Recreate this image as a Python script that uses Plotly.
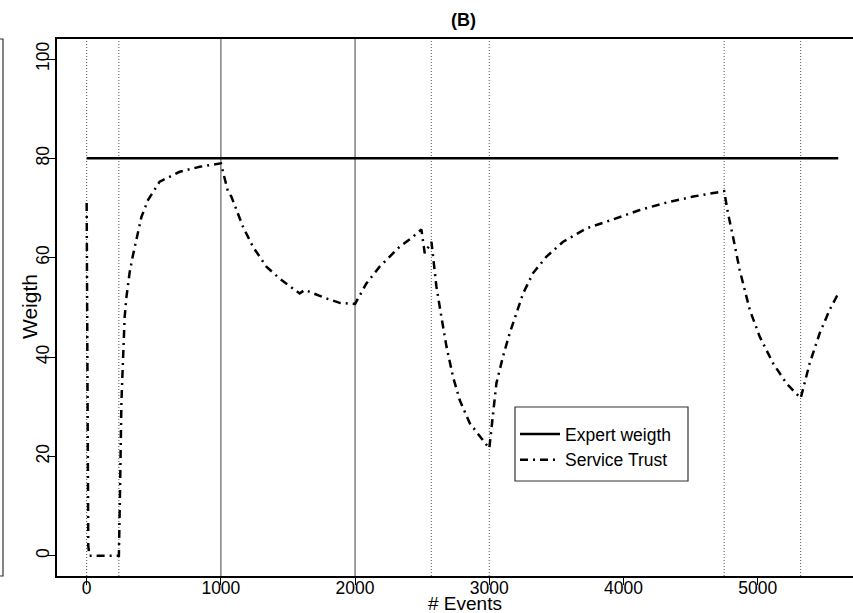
import plotly.graph_objects as go

# ---- data ----
events = [0, 12, 20, 240, 248, 259, 283, 296, 320, 345, 408, 457, 544, 693, 842, 978, 1000,
          1053, 1078, 1165, 1239, 1339, 1438, 1537, 1587, 1624, 1686, 1786, 1885, 2000,
          2084, 2183, 2332, 2431, 2494, 2519, 2569, 2606, 2643, 2681, 2730, 2780, 2854, 2929, 3000,
          3053, 3102, 3152, 3189, 3252, 3326, 3426, 3550, 3724, 3922, 4121, 4320, 4519, 4750,
          4779, 4816, 4866, 4941, 5015, 5115, 5214, 5320, 5387, 5462, 5536, 5600]
trust = [71, 2, 0, 0, 12, 31, 48, 52, 57, 60.5, 68.2, 71.6, 75.3, 77.3, 78.3, 78.8, 79,
         73.3, 72.3, 66.2, 62.2, 58.2, 55.8, 53.8, 52.8, 53.5, 52.8, 51.8, 50.9, 50.7,
         54.8, 58.2, 62.2, 64.2, 65.7, 60.9, 63.2, 54.2, 48.1, 42.1, 36.0, 31.3, 26.7, 24.0, 21.6,
         34.7, 40.1, 44.8, 47.8, 52.8, 56.9, 60.2, 63.2, 65.9, 67.7, 69.6, 71.1, 72.3, 73.4,
         68.9, 64.2, 57.5, 49.5, 44.1, 38.7, 34.7, 31.7, 38.7, 44.8, 49.5, 52.8]
expert_events = [0, 5600]
expert_weight = [80, 80]
solid_vlines = [1000, 2000]
dotted_vlines = [0, 240, 2568, 3000, 4750, 5320]
x_ticks = [0, 1000, 2000, 3000, 4000, 5000]
y_ticks = [0, 20, 40, 60, 80, 100]

FONT = "Liberation Sans, Arial, Helvetica, sans-serif"

W, H = 853, 613
L, R, T, B = 57, 0, 39, 37
pw, ph = W - L - R, H - T - B

def px2paper_x(px):
    return (px - L) / pw

def px2paper_y(py):
    return (H - B - py) / ph

fig = go.Figure()
fig.add_trace(go.Scatter(x=expert_events, y=expert_weight, mode="lines", name="Expert weigth",
                         line=dict(color="black", width=2.5)))
fig.add_trace(go.Scatter(x=events, y=trust, mode="lines", name="Service Trust",
                         line=dict(color="black", width=2.5, dash="8px,5px,2px,5px")))

fig.update_layout(
    width=W, height=H,
    margin=dict(l=L, r=R, t=T, b=B, pad=0),
    plot_bgcolor="white", paper_bgcolor="white",
    font=dict(family=FONT, size=17.5, color="black"),
    showlegend=True,
    legend=dict(x=px2paper_x(515), y=px2paper_y(416), xanchor="left", yanchor="top",
                bgcolor="rgba(0,0,0,0)", borderwidth=0, font=dict(size=17.5),
                itemwidth=40, tracegroupgap=0),
    xaxis=dict(range=[-221, 5710], tickvals=x_ticks, ticks="outside", ticklen=7,
               tickwidth=1, tickcolor="black", showline=True, linecolor="black", linewidth=1.5,
               mirror=True, showgrid=False, zeroline=False, ticklabelstandoff=-12),
    yaxis=dict(range=[-4.09, 104.03], tickvals=y_ticks, ticks="outside", ticklen=8,
               tickwidth=1, tickcolor="black", showline=True, linecolor="black", linewidth=1.5,
               mirror=False, showgrid=False, zeroline=False, tickangle=-90,
               ticklabelstandoff=-9),
    annotations=[
        dict(text="<b>(B)</b>", x=px2paper_x(463), y=px2paper_y(20), xref="paper", yref="paper",
             showarrow=False, font=dict(size=18), xanchor="center", yanchor="middle"),
        dict(text="# Events", x=px2paper_x(465), y=px2paper_y(603), xref="paper", yref="paper",
             showarrow=False, font=dict(size=19), xanchor="center", yanchor="middle"),
        dict(text="Weigth", x=px2paper_x(29), y=px2paper_y(307), xref="paper", yref="paper",
             showarrow=False, font=dict(size=21), textangle=-90, xanchor="center", yanchor="middle"),
    ],
)

for v in solid_vlines:
    fig.add_vline(x=v, line=dict(color="#808080", width=1.5), layer="below")
for v in dotted_vlines:
    fig.add_vline(x=v, line=dict(color="#555555", width=1, dash="1px,2px"), layer="below")

# legend box
fig.add_shape(type="rect", xref="paper", yref="paper",
              x0=px2paper_x(515), x1=px2paper_x(688), y0=px2paper_y(481), y1=px2paper_y(407),
              line=dict(color="#333333", width=1.2), fillcolor="rgba(0,0,0,0)")
# edge of the neighbouring panel (A)
fig.add_shape(type="path", xref="paper", yref="paper",
              path=f"M {px2paper_x(-2)} {px2paper_y(39)} L {px2paper_x(3)} {px2paper_y(39)} "
                   f"L {px2paper_x(3)} {px2paper_y(576)} L {px2paper_x(-2)} {px2paper_y(576)}",
              line=dict(color="#333333", width=1.2))

fig.write_html("out.html")
